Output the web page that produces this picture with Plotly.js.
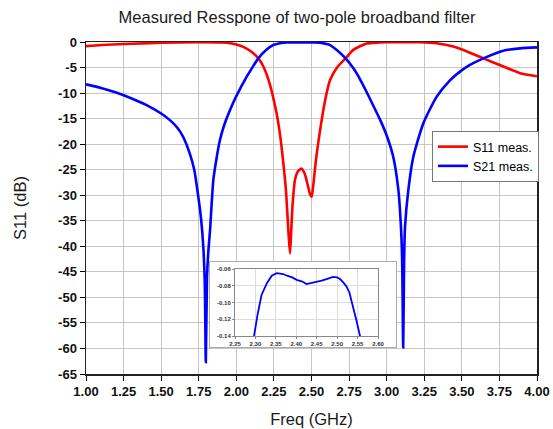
<!DOCTYPE html>
<html>
<head>
<meta charset="utf-8">
<script src="https://cdn.plot.ly/plotly-3.0.1.min.js"></script>
<style>html,body{margin:0;padding:0;background:#fff;}#chart{width:553px;height:429px;}</style>
</head>
<body>
<div id="chart"></div>
<script>
// ---- data ----
const s11Freq = [1.00, 1.10, 1.25, 1.50, 1.75, 1.90, 1.96, 2.00, 2.05, 2.10, 2.144, 2.18, 2.22, 2.268, 2.29, 2.313, 2.33, 2.346, 2.357, 2.365, 2.375, 2.39, 2.41, 2.435, 2.455, 2.475, 2.49, 2.501, 2.51, 2.53, 2.557, 2.59, 2.623, 2.67, 2.727, 2.78, 2.867, 2.95, 3.00, 3.22, 3.333, 3.443, 3.554, 3.643, 3.776, 3.887, 4.00];
const s11Vals = [-0.8, -0.6, -0.4, -0.15, -0.05, -0.1, -0.25, -0.5, -1.0, -1.9, -3.1, -4.8, -8.0, -14.0, -18.0, -23.8, -29.0, -36.9, -41.4, -37.0, -31.5, -27.0, -25.3, -24.8, -25.8, -28.0, -29.8, -30.3, -28.5, -23.0, -17.3, -11.5, -7.5, -5.0, -3.2, -1.5, -0.3, -0.1, -0.05, -0.05, -0.26, -0.9, -2.1, -3.2, -4.8, -6.1, -6.7];

const s21Freq = [1.00, 1.10, 1.20, 1.30, 1.40, 1.50, 1.55, 1.60, 1.625, 1.65, 1.69, 1.72, 1.747, 1.765, 1.78, 1.79, 1.797, 1.805, 1.815, 1.825, 1.847, 1.87, 1.891, 1.92, 1.958, 2.00, 2.069, 2.10, 2.146, 2.20, 2.246, 2.30, 2.335, 2.36, 2.40, 2.45, 2.50, 2.53, 2.556, 2.60, 2.623, 2.67, 2.727, 2.78, 2.823, 2.86, 2.90, 2.956, 3.00, 3.044, 3.078, 3.095, 3.103, 3.11, 3.116, 3.122, 3.144, 3.177, 3.244, 3.333, 3.421, 3.488, 3.554, 3.643, 3.776, 3.887, 4.00];
const s21Vals = [-8.3, -9.0, -9.9, -11.0, -12.3, -14.0, -15.1, -16.5, -17.5, -18.8, -21.8, -25.0, -30.3, -34.5, -40.0, -47.0, -62.7, -46.0, -40.5, -36.9, -27.0, -22.5, -19.2, -16.2, -13.3, -10.6, -6.8, -5.3, -3.2, -1.5, -0.6, -0.2, -0.075, -0.065, -0.073, -0.075, -0.07, -0.088, -0.14, -0.4, -0.6, -1.6, -3.2, -5.2, -7.3, -9.4, -11.8, -15.2, -18.3, -22.5, -29.0, -36.2, -42.7, -59.8, -43.0, -36.2, -29.0, -22.5, -15.9, -10.7, -7.5, -5.8, -4.5, -3.2, -1.7, -1.25, -1.05];

// inset: zoom of S21 passband
const insetFreq = [2.29, 2.296, 2.305, 2.315, 2.328, 2.34, 2.352, 2.36, 2.368, 2.377, 2.39, 2.401, 2.415, 2.425, 2.435, 2.45, 2.462, 2.474, 2.49, 2.50, 2.507, 2.515, 2.523, 2.53, 2.536, 2.542, 2.548, 2.556, 2.56];
const insetVals = [-0.16, -0.140, -0.115, -0.091, -0.077, -0.068, -0.065, -0.0655, -0.066, -0.068, -0.070, -0.073, -0.075, -0.078, -0.077, -0.075, -0.074, -0.072, -0.0695, -0.070, -0.072, -0.076, -0.081, -0.088, -0.099, -0.110, -0.123, -0.140, -0.15];

const seriesNames = ["S11 meas.", "S21 meas."];
const xTickVals = [1.00, 1.25, 1.50, 1.75, 2.00, 2.25, 2.50, 2.75, 3.00, 3.25, 3.50, 3.75, 4.00];
const yTickVals = [0, -5, -10, -15, -20, -25, -30, -35, -40, -45, -50, -55, -60, -65];
const yTickText = ["0", "-5", "-10", "-15", "-20", "-25", "-30", "-35", "-40", "-45", "-50", "-55", "-60", "-65"];
const insetXTickVals = [2.25, 2.30, 2.35, 2.40, 2.45, 2.50, 2.55, 2.60];
const insetYTickVals = [-0.06, -0.08, -0.10, -0.12, -0.14];
const insetYTickText = ["-0.06", "-0.08", "-0.10", "-0.12", "-0.14"];

const FONT = "Liberation Sans, Arial, sans-serif";

const traces = [
  {x: s11Freq, y: s11Vals, name: seriesNames[0], type: "scatter", mode: "lines",
   line: {color: "#ff0000", width: 2.6, shape: "spline", smoothing: 0.6}, xaxis: "x", yaxis: "y"},
  {x: s21Freq, y: s21Vals, name: seriesNames[1], type: "scatter", mode: "lines",
   line: {color: "#0000ff", width: 2.6, shape: "spline", smoothing: 0.6}, xaxis: "x", yaxis: "y"},
  // white box behind the inset
  {x: [], y: [], xaxis: "x2", yaxis: "y2", showlegend: false, hoverinfo: "skip", type: "scatter"},
  {x: insetFreq, y: insetVals, type: "scatter", mode: "lines", showlegend: false,
   line: {color: "#0000ff", width: 1.8}, xaxis: "x3", yaxis: "y3"}
];

const W = 553, H = 429, L = 86, R = 16, T = 42, B = 55;
const pw = W - L - R, ph = H - T - B;
function px(xp) { return (xp - L) / pw; }
function py(yp) { return (H - B - yp) / ph; }

const layout = {
  width: W, height: H,
  margin: {l: L, r: R, t: T, b: B},
  paper_bgcolor: "#ffffff",
  plot_bgcolor: "#ffffff",
  font: {family: FONT, color: "#000"},
  title: {text: "Measured Resspone of two-pole broadband filter", font: {size: 16.5, color: "#1a1a1a", family: FONT},
          x: 297 / W, xref: "container", xanchor: "center", y: 1 - 17 / H, yref: "container", yanchor: "middle"},
  showlegend: true,
  legend: {x: px(432), y: py(131), xanchor: "left", yanchor: "top", bgcolor: "#ffffff",
           bordercolor: "#777", borderwidth: 1, font: {size: 12.5, family: FONT, color: "#000"},
           tracegroupgap: 0, itemwidth: 30},
  xaxis: {range: [1.0, 4.0], tickvals: xTickVals, tickformat: ".2f", ticks: "outside", ticklen: 5,
          tickcolor: "#000", showline: true, linecolor: "#222", linewidth: 1.5, mirror: true,
          showgrid: true, gridcolor: "#c6c6c6", gridwidth: 1, zeroline: false,
          tickfont: {size: 13, weight: "bold", family: FONT, color: "#111"},
          title: {text: "Freq (GHz)", font: {size: 16.5, family: FONT, color: "#1a1a1a"}, standoff: 15}},
  yaxis: {range: [-65, 0], tickvals: yTickVals, ticktext: yTickText, ticks: "outside", ticklen: 5,
          tickcolor: "#000", showline: true, linecolor: "#222", linewidth: 1.5, mirror: true,
          showgrid: true, gridcolor: "#c6c6c6", gridwidth: 1, zeroline: false,
          tickfont: {size: 13, weight: "bold", family: FONT, color: "#111"},
          title: {text: "S11 (dB)", font: {size: 16.5, family: FONT, color: "#1a1a1a"}, standoff: 27}},
  xaxis2: {domain: [px(210), px(396)], anchor: "y2", range: [0, 1], showgrid: false, zeroline: false,
           showticklabels: false, ticks: "", showline: true, mirror: true, linecolor: "#aaa", linewidth: 1},
  yaxis2: {domain: [py(347), py(262)], anchor: "x2", range: [0, 1], showgrid: false, zeroline: false,
           showticklabels: false, ticks: "", showline: true, mirror: true, linecolor: "#aaa", linewidth: 1},
  xaxis3: {domain: [px(235), px(378)], anchor: "y3", range: [2.25, 2.60], tickvals: insetXTickVals, tickformat: ".2f",
           showgrid: true, gridcolor: "#dcdcdc", zeroline: false, showline: true, mirror: true, linecolor: "#888",
           linewidth: 1, ticks: "outside", ticklen: 2, tickcolor: "#888",
           tickfont: {size: 6, weight: "bold", family: FONT, color: "#333"}},
  yaxis3: {domain: [py(336), py(269)], anchor: "x3", range: [-0.14, -0.06], tickvals: insetYTickVals, ticktext: insetYTickText,
           showgrid: true, gridcolor: "#dcdcdc", zeroline: false, showline: true, mirror: true, linecolor: "#888",
           linewidth: 1, ticks: "outside", ticklen: 2, tickcolor: "#888",
           tickfont: {size: 6, weight: "bold", family: FONT, color: "#333"}}
};

Plotly.newPlot("chart", traces, layout, {staticPlot: true, displayModeBar: false});
</script>
</body>
</html>
